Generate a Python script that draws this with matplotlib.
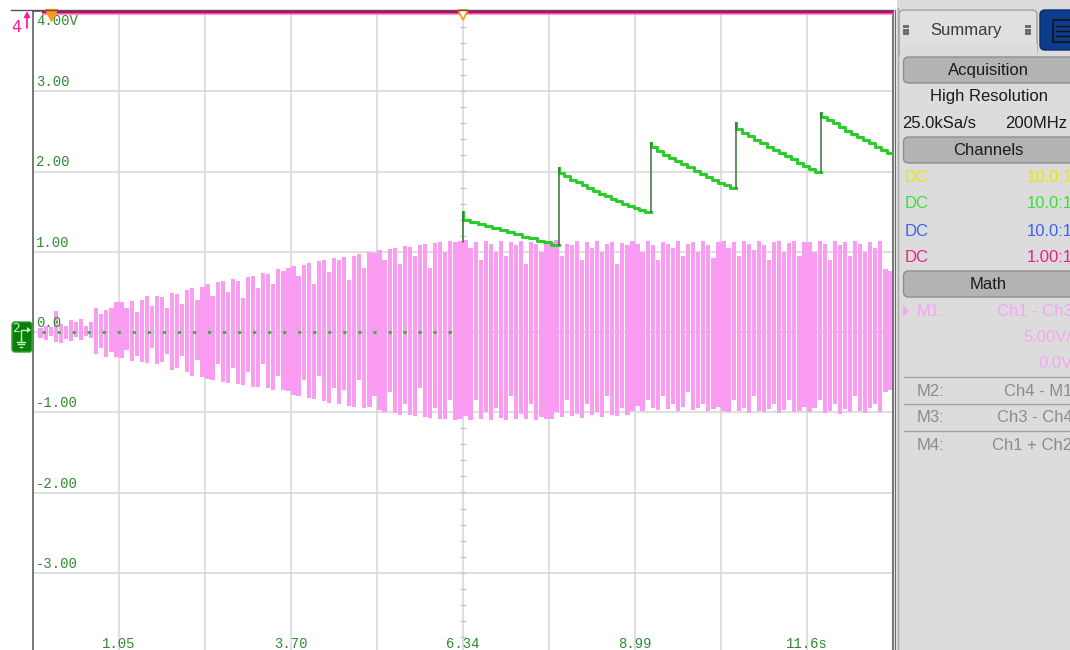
import numpy as np
import matplotlib
matplotlib.use("Agg")
import matplotlib.pyplot as plt
from matplotlib.patches import FancyBboxPatch, Rectangle, Polygon
from matplotlib import transforms as mtrans

# ---------------- scope settings ----------------
t_left, t_right = -0.2725, 12.9525      # 1.3225 s/div, 10 divisions
v_bottom, v_top = -4.0, 4.0             # 1 V/div, 8 divisions

time_labels = ["1.05", "3.70", "6.34", "8.99", "11.6s"]
volt_values = [4, 3, 2, 1, 0, -1, -2, -3]
volt_labels = ["4.00V", "3.00", "2.00", "1.00", "0.0", "-1.00", "-2.00", "-3.00"]

trigger_t = 6.34
ref_t = 0.0

# ---------------- channel 4 (pink) : min/max per display column ----------------
ch4_start = -0.14
ch4_top = [
    np.nan, 0.05, 0.07, 0.06, 0.26, 0.10, 0.08, 0.15, 0.12, 0.16, 0.08, 0.12, 0.30, 0.22, 0.28, 0.30, 0.37,
    0.38, 0.30, 0.39, 0.25, 0.40, 0.45, 0.33, 0.45, 0.44, 0.30, 0.48, 0.47, 0.35, 0.52, 0.55, 0.40, 0.56,
    0.60, 0.45, 0.62, 0.63, 0.50, 0.66, 0.64, 0.42, 0.68, 0.70, 0.55, 0.73, 0.72, 0.60, 0.78, 0.76, 0.80,
    0.82, 0.70, 0.84, 0.86, 0.60, 0.88, 0.90, 0.75, 0.92, 0.90, 0.94, 0.65, 0.95, 0.97, 0.80, 1.00, 0.98,
    1.02, 0.90, 1.04, 1.05, 0.85, 1.07, 1.06, 0.95, 1.09, 1.10, 0.80, 1.11, 1.12, 1.00, 1.13, 1.12, 1.14,
    1.15, 1.05, 1.12, 0.90, 1.13, 1.10, 1.00, 1.14, 0.95, 1.12, 1.08, 1.13, 0.85, 1.12, 1.10, 1.00, 1.14,
    1.12, 1.15, 0.95, 1.10, 1.08, 1.13, 0.90, 1.12, 1.05, 1.13, 1.00, 1.10, 1.12, 0.85, 1.11, 1.09, 1.13,
    1.10, 1.00, 1.13, 1.08, 0.90, 1.12, 1.10, 1.05, 1.13, 0.95, 1.10, 1.12, 1.00, 1.13, 1.08, 0.92, 1.12,
    1.13, 1.05, 1.12, 0.95, 1.14, 1.10, 1.02, 1.13, 1.08, 0.90, 1.12, 1.13, 1.00, 1.11, 1.13, 0.95, 1.12,
    1.12, 1.00, 1.13, 1.10, 0.90, 1.14, 1.08, 1.12, 0.95, 1.13, 1.10, 1.00, 1.12, 1.05, 1.13, 0.78, 0.76,
]
ch4_bottom = [
    np.nan, -0.07, -0.10, -0.05, -0.12, -0.14, -0.09, -0.11, -0.06, -0.10, -0.05, -0.08, -0.28, -0.20, -0.31, -0.25, -0.31,
    -0.33, -0.22, -0.36, -0.30, -0.37, -0.39, -0.20, -0.40, -0.38, -0.28, -0.47, -0.45, -0.30, -0.50, -0.55, -0.35, -0.56,
    -0.58, -0.60, -0.40, -0.62, -0.64, -0.45, -0.65, -0.66, -0.50, -0.68, -0.69, -0.40, -0.70, -0.72, -0.55, -0.72, -0.74,
    -0.78, -0.80, -0.60, -0.82, -0.84, -0.55, -0.86, -0.88, -0.70, -0.90, -0.72, -0.92, -0.93, -0.60, -0.95, -0.94, -0.80,
    -0.97, -1.00, -0.75, -1.01, -1.03, -0.90, -1.04, -1.05, -0.70, -1.06, -1.07, -0.95, -1.08, -1.09, -0.85, -1.10, -1.09,
    -1.05, -1.10, -0.85, -1.08, -1.00, -1.10, -0.95, -1.07, -1.10, -0.80, -1.08, -1.02, -1.09, -0.90, -1.10, -1.06, -1.08,
    -1.08, -1.00, -1.06, -0.85, -1.05, -1.02, -1.07, -0.90, -1.04, -1.00, -1.06, -0.80, -1.03, -1.05, -0.95, -1.04, -0.98,
    -0.92, -0.98, -0.85, -0.95, -0.97, -0.80, -0.96, -0.90, -0.98, -0.94, -0.75, -0.97, -0.95, -0.90, -0.98, -0.96, -0.93,
    -0.98, -1.00, -0.85, -0.99, -0.95, -1.01, -0.80, -0.98, -1.00, -0.96, -0.90, -1.01, -0.97, -0.85, -1.00, -0.98, -0.94,
    -1.00, -0.95, -0.85, -1.01, -0.98, -0.90, -1.02, -0.96, -1.00, -0.80, -0.99, -1.01, -0.95, -0.90, -1.00, -0.75, -0.72,
]
ch4_clip_level = 4.0   # channel 4 offset pushes part of it off the top of the screen

# ---------------- channel 2 (green) : quantised staircase ----------------
ch2_idle_level = 0.0
ch2_jump_t = [6.34, 7.81, 9.23, 10.54, 11.85]
ch2_jump_base = 1.12
ch2_peak = [1.50, 2.04, 2.36, 2.60, 2.73]
ch2_steps = [
    [1.40, 1.37, 1.35, 1.32, 1.29, 1.27, 1.24, 1.22, 1.19, 1.17, 1.14, 1.12, 1.09],
    [1.98, 1.94, 1.90, 1.87, 1.83, 1.79, 1.76, 1.72, 1.69, 1.66, 1.63, 1.60, 1.57, 1.55, 1.52, 1.50],
    [2.30, 2.25, 2.21, 2.17, 2.13, 2.09, 2.05, 2.01, 1.97, 1.93, 1.90, 1.86, 1.83, 1.80],
    [2.53, 2.48, 2.44, 2.39, 2.35, 2.31, 2.27, 2.23, 2.19, 2.15, 2.11, 2.07, 2.03, 1.99],
    [2.68, 2.64, 2.60, 2.55, 2.51, 2.47, 2.43, 2.39, 2.35, 2.31, 2.27, 2.23],
]

# ---------------- colours ----------------
GRID = "#d6d6d6"
FRAME = "#555555"
LABEL_GREEN = "#2f8a2f"
PINK = "#fb9cf3"
CH2_GREEN = "#2ccc2c"
CH2_DARK = "#3f6e3f"
ORANGE = "#ff9a1a"

plt.rcParams["font.family"] = ["Liberation Sans", "DejaVu Sans"]

W, H = 1070, 650
fig = plt.figure(figsize=(W / 100, H / 100), dpi=100)
fig.patch.set_facecolor("white")

# graticule area: x 33..893 px, y 11..653 px
ax = fig.add_axes([33 / W, -3 / H, 860 / W, 642 / H])
ax.set_xlim(t_left, t_right)
ax.set_ylim(v_bottom, v_top)
div_t = (t_right - t_left) / 10
ax.set_xticks(np.linspace(t_left, t_right, 11))
ax.set_yticks(np.arange(v_bottom, v_top + 1, 1))
ax.tick_params(length=0, labelleft=False, labelbottom=False)
ax.grid(True, color=GRID, lw=1.1)
ax.set_axisbelow(True)
for side in ("left", "top", "right"):
    ax.spines[side].set_color(FRAME)
    ax.spines[side].set_linewidth(1.1)
ax.spines["bottom"].set_visible(False)

# fine ticks along the centre cross-hair
ax.plot(np.full(40, trigger_t), np.arange(v_bottom, v_top, 0.2), ls="none",
        marker="_", ms=4.5, mew=1.0, color="#c8c8c8", zorder=1)
ax.plot(np.arange(t_left, t_right, div_t / 5), np.zeros(50), ls="none",
        marker="|", ms=4.5, mew=1.0, color="#c8c8c8", zorder=1)

# channel 4: vertical min/max bars
top = np.array(ch4_top)
bot = np.array(ch4_bottom)
n = len(top)
dt = (t_right - t_left) / n
centers = t_left + (np.arange(n) + 0.5) * dt
ax.bar(centers, top - bot, bottom=bot, width=dt * 0.84, color=PINK, lw=0, zorder=2)

# channel 4 clipped at the top edge
ax.plot([ch4_start, t_right], [ch4_clip_level, ch4_clip_level], color="#ff72bc", lw=5.4,
        solid_capstyle="butt", zorder=3)
ax.plot([ch4_start, t_right], [ch4_clip_level, ch4_clip_level], color="#c8006c", lw=3.2,
        solid_capstyle="butt", zorder=3)

# channel 2: idle dots before the trigger
ax.plot([ch4_start, trigger_t], [ch2_idle_level, ch2_idle_level], color="#22b822",
        lw=1.9, ls=(0, (1.2, 4.5)), zorder=4)

# channel 2: staircase decays after each jump
prev = ch2_jump_base
for i, (t0, pk, lv) in enumerate(zip(ch2_jump_t, ch2_peak, ch2_steps)):
    t1 = ch2_jump_t[i + 1] if i + 1 < len(ch2_jump_t) else t_right
    edges = np.linspace(t0, t1, len(lv) + 1)
    xs = np.concatenate([[t0], edges])
    ys = np.concatenate([[pk], lv, [lv[-1]]])
    ax.plot(xs, ys, drawstyle="steps-post", color=CH2_GREEN, lw=2.2, zorder=5)
    ax.plot([t0, t0], [prev, pk], color=CH2_DARK, lw=1.1, zorder=6)
    prev = lv[-1]

# graticule labels
lab_font = dict(family=["Liberation Mono", "DejaVu Sans Mono"], size=10, color=LABEL_GREEN)
ytrans = mtrans.blended_transform_factory(ax.transAxes, ax.transData)
for v, s in zip(volt_values, volt_labels):
    if v == v_top:
        tr = mtrans.offset_copy(ytrans, fig=fig, x=3, y=-3, units="dots")
        ax.text(0, v, s, transform=tr, va="top", ha="left", zorder=7, **lab_font)
    else:
        tr = mtrans.offset_copy(ytrans, fig=fig, x=3, y=2, units="dots")
        ax.text(0, v, s, transform=tr, va="bottom", ha="left", zorder=7, **lab_font)
label_ts = np.linspace(t_left, t_right, 11)[1::2]
for t, s in zip(label_ts, time_labels):
    ax.text(t, -3.935, s, va="baseline", ha="center", zorder=7, **lab_font)

# trigger / time reference markers at the top edge
ax.plot([ref_t], [3.955], marker="v", ms=8, color=ORANGE, mec=ORANGE, clip_on=False, zorder=8)
ax.plot([trigger_t], [3.955], marker="v", ms=7, mfc="white", mec=ORANGE, mew=1.3,
        clip_on=False, zorder=8)

# ---------------- overlay in pixel coordinates ----------------
ov = fig.add_axes([0, 0, 1, 1], zorder=10)
ov.set_xlim(0, W)
ov.set_ylim(H, 0)
ov.axis("off")
ov.patch.set_alpha(0)

ov.plot([11, 893], [10.3, 10.3], color=FRAME, lw=1.0)
ov.plot([895, 895], [10, H], color="#6a6a6a", lw=1.0)

# channel 4 off-screen indicator
ov.text(16, 27, "4", color="#ff1aa0", fontsize=11.5, ha="center", va="center",
        family=["DejaVu Sans"])
ov.annotate("", xy=(27, 11), xytext=(27, 28),
            arrowprops=dict(arrowstyle="-|>", color="#ff1aa0", lw=1.3,
                            mutation_scale=8, shrinkA=0, shrinkB=0))

# channel 2 ground marker
ov.add_patch(FancyBboxPatch((12, 322), 20, 30, boxstyle="round,pad=0,rounding_size=3",
                            fc="#0b7d0b", ec="#2fa02f", lw=1))
ov.text(16, 329, "2", color="#b8ffb8", fontsize=9, ha="center", va="center",
        family=["DejaVu Sans"])
ov.plot([21, 21, 26], [339, 330, 330], color="#b8ffb8", lw=1)
ov.add_patch(Polygon([[27, 327], [27, 333], [31, 330]], closed=True, fc="#b8ffb8", ec="none"))
ov.plot([21, 21], [339, 341], color="#b8ffb8", lw=1)
for k, hw in enumerate([4, 2.6, 1.2]):
    ov.plot([21 - hw, 21 + hw], [342 + 2.3 * k] * 2, color="#b8ffb8", lw=1)

# ---------------- side panel ----------------
PANEL = "#dcdcdc"
HEAD = "#b3b3b3"
HEAD_EDGE = "#8e8e8e"
ov.add_patch(Rectangle((896.5, 0), W - 896.5, H, fc=PANEL, ec="none", zorder=0))
ov.plot([897.5, 897.5], [8, H], color="#a8a8a8", lw=1.0)

# tabs
ov.add_patch(FancyBboxPatch((899, 10), 138, 46, boxstyle="round,pad=0,rounding_size=5",
                            fc="#e0e0e0", ec="#a0a0a0", lw=1))
ov.add_patch(Rectangle((899.5, 44), 137, 14, fc=PANEL, ec="none"))
ov.add_patch(FancyBboxPatch((1040, 10), 40, 40, boxstyle="round,pad=0,rounding_size=5",
                            fc="#0c3c8e", ec="#0a2a66", lw=1))
ov.add_patch(Rectangle((1053, 20), 20, 22, fc="none", ec="#111111", lw=1.2))
for yy in (26, 31, 36):
    ov.plot([1056, 1070], [yy, yy], color="#111111", lw=1)
for gx in (904, 1026):
    for dx in (0, 3):
        for dy in (0, 3.5, 7):
            ov.plot(gx + dx, 26 + dy, marker="s", ms=1.2, color="#666666")

pfont = dict(family=["Liberation Sans", "DejaVu Sans"], size=12)
ov.text(966, 30, "Summary", color="#3a3a3a", ha="center", va="center", **pfont)


def header(y, text):
    ov.add_patch(FancyBboxPatch((903.5, y), 175, 26, boxstyle="round,pad=0,rounding_size=5",
                                fc=HEAD, ec=HEAD_EDGE, lw=1))
    ov.text(988, y + 13.5, text, color="#1a1a1a", ha="center", va="center", **pfont)


header(57, "Acquisition")
ov.text(989, 97, "High Resolution", color="#1a1a1a", ha="center", va="center", **pfont)
ov.text(902, 123, "25.0kSa/s", color="#1a1a1a", ha="left", va="center", **pfont)
ov.text(1067, 123, "200MHz", color="#1a1a1a", ha="right", va="center", **pfont)

header(137, "Channels")
chan_couplings = ["DC", "DC", "DC", "DC"]
chan_probes = ["10.0:1", "10.0:1", "10.0:1", "1.00:1"]
chan_colors = ["#e8e800", "#3ddc3d", "#3b63ef", "#ef1f8c"]
for k, (cp, pr, c) in enumerate(zip(chan_couplings, chan_probes, chan_colors)):
    yy = 177 + 27 * k
    ov.text(905, yy, cp, color=c, ha="left", va="center", **pfont)
    ov.text(1027, yy, pr, color=c, ha="left", va="center", **pfont)

header(271, "Math")
M1C = "#f4a6f4"
ov.add_patch(Polygon([[903, 305], [903, 317], [909, 311]], closed=True, fc=M1C, ec="none"))
ov.text(917, 311, "M1:", color=M1C, ha="left", va="center", **pfont)
ov.text(997, 311, "Ch1 - Ch3", color=M1C, ha="left", va="center", **pfont)
ov.text(1023, 338, "5.00V/", color=M1C, ha="left", va="center", **pfont)
ov.text(1038, 364, "0.0V", color=M1C, ha="left", va="center", **pfont)

math_names = ["M2:", "M3:", "M4:"]
math_defs = ["Ch4 - M1", "Ch3 - Ch4", "Ch1 + Ch2"]
math_def_x = [1004, 997, 992]
for k, (nm, df, dx) in enumerate(zip(math_names, math_defs, math_def_x)):
    ysep = 377 + 27 * k
    ov.plot([904, W], [ysep, ysep], color="#a2a2a2", lw=1)
    ov.text(917, ysep + 14, nm, color="#8c8c8c", ha="left", va="center", **pfont)
    ov.text(dx, ysep + 14, df, color="#8c8c8c", ha="left", va="center", **pfont)

fig.savefig("out.png", dpi=100)
